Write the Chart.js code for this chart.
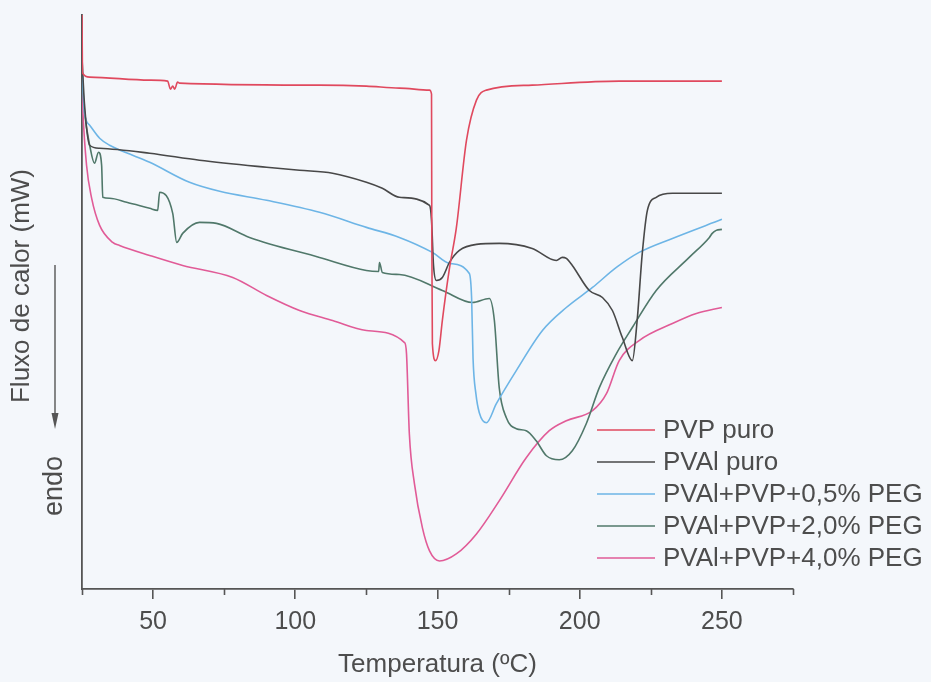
<!DOCTYPE html>
<html lang="pt">
<head>
<meta charset="utf-8">
<title>DSC - PVAl/PVP/PEG</title>
<script src="https://cdn.jsdelivr.net/npm/chart.js@4.4.0/dist/chart.umd.min.js"></script>
<style>
  html, body { margin: 0; padding: 0; background: #f4f7fb; }
  #wrap { width: 931px; height: 682px; }
</style>
</head>
<body>
<div id="wrap"><canvas id="dsc" width="931" height="682"></canvas></div>
<script>
// Curvas de DSC: fluxo de calor (mW) x temperatura (ºC), endo para baixo

const serieNomes = ["PVP puro", "PVAl puro", "PVAl+PVP+0,5% PEG", "PVAl+PVP+2,0% PEG", "PVAl+PVP+4,0% PEG"];

// PVP puro
const tPVP = [25, 25.2, 27.7, 48.8, 55.1, 56.1, 56.9, 57.6, 58.6, 59.3, 108.5, 125, 136.6, 147.2, 147.9, 148.0, 148.2,
  149.3, 150.5, 151.7, 154.2, 156.6, 160.2, 163.7, 167.2, 183.3, 213.9, 250];
const fPVP = [5.73, 5.15, 5.11, 5.08, 5.07, 4.99, 5.02, 4.99, 5.06, 5.05, 5.03, 5.02, 5.00, 4.98, 4.94, 3.50, 2.45,
  2.28, 2.38, 2.68, 3.20, 3.60, 4.48, 4.88, 4.98, 5.03, 5.07, 5.07];

// PVAl puro
const tPVAl = [25, 25.9, 27.7, 31.2, 48.8, 66.3, 89.9, 101.5, 113.1, 125, 130.6, 136.6, 147.2, 147.9, 148.6, 149.6,
  151.7, 154.2, 157.7, 163.7, 171.7, 183.3, 191.8, 193.9, 195.3, 197.4, 203.4, 208.0, 211.5, 215.0, 218.5, 220.2,
  222.0, 223.8, 226.9, 232.6, 250];
const fPVAl = [5.30, 4.83, 4.43, 4.40, 4.35, 4.28, 4.21, 4.18, 4.15, 4.06, 4.00, 3.91, 3.83, 3.68, 3.23, 3.08,
  3.11, 3.26, 3.38, 3.44, 3.45, 3.40, 3.28, 3.31, 3.30, 3.23, 2.98, 2.91, 2.78, 2.51, 2.28, 2.68,
  3.35, 3.78, 3.91, 3.95, 3.95];

// PVAl+PVP+0,5% PEG
const tPEG05 = [25, 25.9, 27.7, 31.2, 34.7, 42.8, 48.8, 62.8, 73.4, 89.9, 108.5, 125, 136.6, 148.2, 154.2, 161.2,
  162.0, 162.5, 163.5, 164.7, 167.2, 170.7, 177.7, 186.9, 195.3, 204.5, 212.9, 220.9, 232.6, 250];
const fPEG05 = [5.20, 4.75, 4.63, 4.50, 4.43, 4.33, 4.26, 4.06, 3.97, 3.88, 3.76, 3.61, 3.51, 3.36, 3.25, 3.15,
  2.90, 2.30, 1.95, 1.76, 1.66, 1.85, 2.18, 2.58, 2.81, 3.01, 3.21, 3.36, 3.50, 3.69];

// PVAl+PVP+2,0% PEG
const tPEG20 = [25, 25.9, 27.7, 29.4, 30.8, 31.9, 32.3, 34.7, 40.7, 48.8, 51.6, 52.3, 56.9, 58.3, 60.4, 66.3, 72.3,
  83.9, 108.5, 125, 129.3, 129.6, 130.6, 136.6, 151.7, 162.3, 168.2, 170.0, 171.7, 174.2, 177.7, 181.2, 184.7,
  188.3, 192.8, 197.4, 202.3, 206.9, 212.9, 218.5, 226.9, 238.5, 245.6, 246.6, 248, 250];
const fPEG20 = [5.10, 4.76, 4.43, 4.25, 4.36, 4.23, 3.91, 3.90, 3.86, 3.80, 3.78, 3.96, 3.75, 3.46, 3.55, 3.66, 3.65,
  3.51, 3.31, 3.18, 3.17, 3.26, 3.16, 3.14, 2.98, 2.86, 2.90, 2.68, 2.01, 1.71, 1.60, 1.58, 1.48,
  1.33, 1.29, 1.38, 1.65, 2.01, 2.35, 2.61, 2.98, 3.31, 3.51, 3.55, 3.58, 3.59];

// PVAl+PVP+4,0% PEG
const tPEG40 = [25, 25.2, 26.6, 28.4, 31.2, 35.8, 38.2, 48.8, 60.4, 78.0, 89.9, 101.5, 113.1, 125, 138.4, 139.1,
  140.1, 141.9, 144.7, 147.2, 150.7, 156.6, 163.7, 171.7, 181.2, 189.3, 195.3, 204.5, 209.4, 213.9, 220.9,
  232.6, 241.0, 250];
const fPEG40 = [5.00, 4.83, 4.23, 3.90, 3.63, 3.46, 3.43, 3.33, 3.23, 3.11, 2.93, 2.78, 2.68, 2.58, 2.46, 2.35,
  1.55, 1.05, 0.61, 0.38, 0.28, 0.35, 0.55, 0.88, 1.31, 1.58, 1.68, 1.78, 1.95, 2.28, 2.48,
  2.65, 2.75, 2.81];

// eixo x: rótulos a cada 50, marcas menores entre eles
const xRotulos = [50, 100, 150, 200, 250];
const xMenores = [25, 75, 125, 175, 225, 275];

const temps = [tPVP, tPVAl, tPEG05, tPEG20, tPEG40];
const fluxos = [fPVP, fPVAl, fPEG05, fPEG20, fPEG40];
const cores = ["#e0495e", "#484848", "#6db5e6", "#50786a", "#e15b97"];

const FONTE = 'Arial, "Liberation Sans", sans-serif';
const TEXTO = "#4d4d4d";
const EIXO = "#555555";

function pontos(ts, fs) {
  return ts.map((t, i) => ({ x: t, y: fs[i] }));
}

// legenda dentro da área do gráfico, canto inferior direito
const legendaDSC = {
  id: "legendaDSC",
  afterDatasetsDraw(chart) {
    const ctx = chart.ctx;
    const a = chart.chartArea;
    const x0 = a.left + 515, x1 = a.left + 573, xt = a.left + 581;
    const y0 = 430, dy = 32;
    ctx.save();
    ctx.font = "26px " + FONTE;
    ctx.textBaseline = "middle";
    ctx.textAlign = "left";
    chart.data.datasets.forEach((ds, i) => {
      const y = y0 + i * dy;
      ctx.strokeStyle = ds.borderColor;
      ctx.lineWidth = 1.4;
      ctx.beginPath();
      ctx.moveTo(x0, y);
      ctx.lineTo(x1, y);
      ctx.stroke();
      ctx.fillStyle = TEXTO;
      ctx.fillText(ds.label, xt, y + 1);
    });
    ctx.restore();
  }
};

// marcas menores do eixo x, título do eixo y e seta "endo"
const extrasDSC = {
  id: "extrasDSC",
  afterDraw(chart) {
    const ctx = chart.ctx;
    const a = chart.chartArea;
    const sx = chart.scales.x;
    ctx.save();
    ctx.strokeStyle = EIXO;
    ctx.lineWidth = 1.6;
    xMenores.forEach(v => {
      const px = Math.round(sx.getPixelForValue(v)) + 0.5;
      ctx.beginPath();
      ctx.moveTo(px, a.bottom);
      ctx.lineTo(px, a.bottom + 6);
      ctx.stroke();
    });

    ctx.fillStyle = TEXTO;
    ctx.textAlign = "center";
    ctx.textBaseline = "middle";

    ctx.save();
    ctx.translate(a.left - 60, 286);
    ctx.rotate(-Math.PI / 2);
    ctx.font = "26px " + FONTE;
    ctx.fillText("Fluxo de calor (mW)", 0, 0);
    ctx.restore();

    const ax = a.left - 27;
    ctx.lineWidth = 1.4;
    ctx.beginPath();
    ctx.moveTo(ax, 265);
    ctx.lineTo(ax, 416);
    ctx.stroke();
    ctx.fillStyle = EIXO;
    ctx.beginPath();
    ctx.moveTo(ax, 429);
    ctx.lineTo(ax - 3.5, 413);
    ctx.lineTo(ax + 3.5, 413);
    ctx.closePath();
    ctx.fill();

    ctx.translate(ax, 486);
    ctx.rotate(-Math.PI / 2);
    ctx.font = "27px " + FONTE;
    ctx.fillStyle = TEXTO;
    ctx.fillText("endo", 0, 0);
    ctx.restore();
  }
};

new Chart(document.getElementById("dsc"), {
  type: "line",
  data: {
    datasets: serieNomes.map((nome, i) => ({
      label: nome,
      data: pontos(temps[i], fluxos[i]),
      borderColor: cores[i],
      backgroundColor: cores[i],
      borderWidth: 1.6,
      pointRadius: 0,
      fill: false,
      cubicInterpolationMode: "monotone"
    }))
  },
  options: {
    responsive: false,
    animation: false,
    layout: { padding: { top: 15, right: 138, left: 0, bottom: 0 } },
    plugins: {
      legend: { display: false },
      tooltip: { enabled: false }
    },
    scales: {
      x: {
        type: "linear",
        min: 25,
        max: 275,
        afterFit: s => { s.height = 93; },
        ticks: {
          stepSize: 25,
          autoSkip: false,
          maxRotation: 0,
          padding: 8,
          color: TEXTO,
          font: { family: FONTE, size: 25 },
          callback: v => (xRotulos.includes(v) ? String(v) : "")
        },
        grid: {
          drawOnChartArea: false,
          drawTicks: true,
          tickLength: 10,
          lineWidth: 1.6,
          color: c => (c.tick && xRotulos.includes(c.tick.value) ? EIXO : "rgba(0,0,0,0)")
        },
        border: { display: true, color: EIXO, width: 1.8 },
        title: {
          display: true,
          text: "Temperatura (ºC)",
          color: TEXTO,
          font: { family: FONTE, size: 26 },
          padding: { top: 0, bottom: 2 }
        }
      },
      y: {
        type: "linear",
        min: 0,
        max: 5.73,
        afterFit: s => { s.width = 82; },
        ticks: { display: false },
        grid: { display: false },
        border: { display: true, color: EIXO, width: 1.8 }
      }
    }
  },
  plugins: [legendaDSC, extrasDSC]
});
</script>
</body>
</html>
